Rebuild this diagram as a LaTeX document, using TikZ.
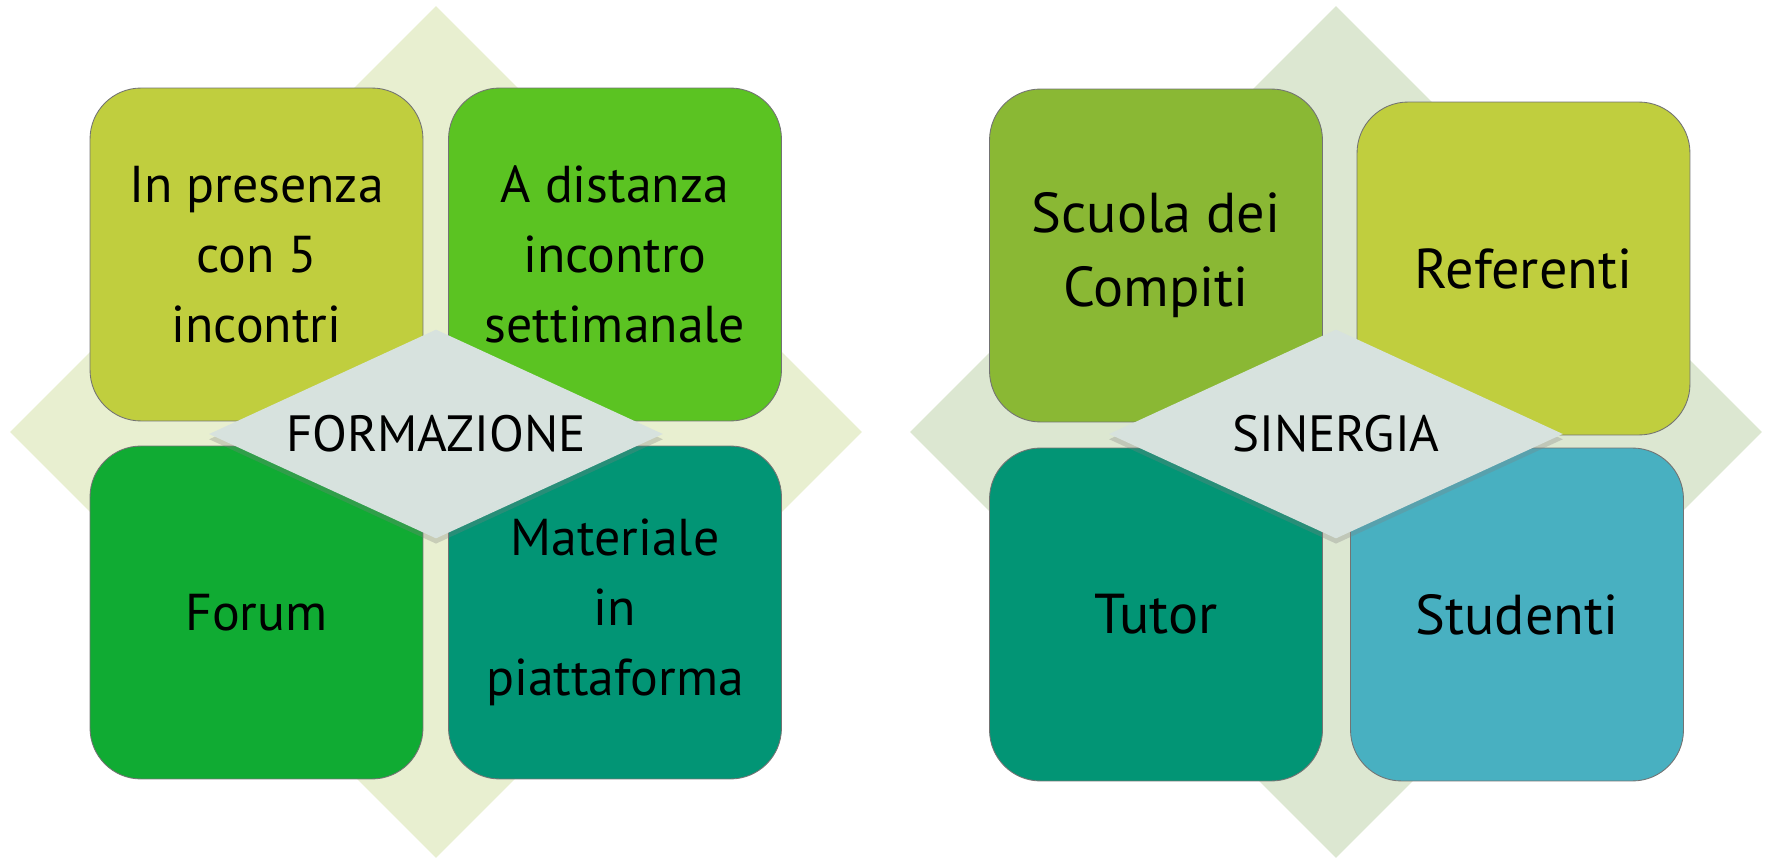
\documentclass[tikz,border=0pt]{standalone}
\usepackage{fontspec}
\setmainfont{PT Sans}
\usepackage{tikz}
\usetikzlibrary{positioning,%
  shapes.geometric,%
  shadows
}

\definecolor{paleolive}{HTML}{E8EFD0}
\definecolor{palesage}{HTML}{DCE7D1}
\definecolor{hubgray}{HTML}{D7E2DE}
\definecolor{lime}{HTML}{C0CE3E}
\definecolor{grass}{HTML}{5BC322}
\definecolor{leaf}{HTML}{10AB33}
\definecolor{jade}{HTML}{029575}
\definecolor{moss}{HTML}{8AB834}
\definecolor{aqua}{HTML}{48B0C1}

\begin{document}
\begin{tikzpicture}
  [
    x=0.02cm, y=-0.02cm,
    every node/.style={align=center, inner sep=0pt},
    backdrop/.style={diamond, aspect=1, minimum size=17.04cm},
    tile/.style={draw=black!55, line width=.5pt, rounded corners=1.02cm,
      minimum size=6.66cm, font=\fontsize{29.5}{40}\selectfont},
    bigtile/.style={tile, font=\fontsize{32}{42}\selectfont},
    hub/.style={diamond, aspect=2.17, minimum width=9.08cm, minimum height=4.18cm,
      fill=hubgray, font=\fontsize{29}{34}\selectfont,
      drop shadow={shadow xshift=0pt, shadow yshift=-3pt, opacity=.3}}
  ]

  \useasboundingbox (0,0) rectangle (1769,858);

  % FORMAZIONE
  \node[backdrop, fill=paleolive] (bgL) at (436,432) {};
  \node[tile, fill=lime]  (presenza)  at (256.5,254.5) {In presenza\\con 5\\incontri};
  \node[tile, fill=grass] (distanza)  at (615,254.5)   {A distanza\\incontro\\settimanale};
  \node[tile, fill=leaf]  (forum)     at (256.5,612.5) {Forum};
  \node[tile, fill=jade]  (materiale) at (615,612.5)   {Materiale\\in\\piattaforma};
  \node[hub] (formazione) at (436,434) {FORMAZIONE};

  % SINERGIA
  \node[backdrop, fill=palesage] (bgR) at (1336,432) {};
  \node[bigtile, fill=moss] (scuola)    at (1156,255.5)  {Scuola dei\\Compiti};
  \node[bigtile, fill=lime] (referenti) at (1523.5,268.5) {Referenti};
  \node[bigtile, fill=jade] (tutor)     at (1156,614.5)  {Tutor};
  \node[bigtile, fill=aqua] (studenti)  at (1517,614.5)  {Studenti};
  \node[hub] (sinergia) at (1336,434) {SINERGIA};
\end{tikzpicture}
\end{document}
